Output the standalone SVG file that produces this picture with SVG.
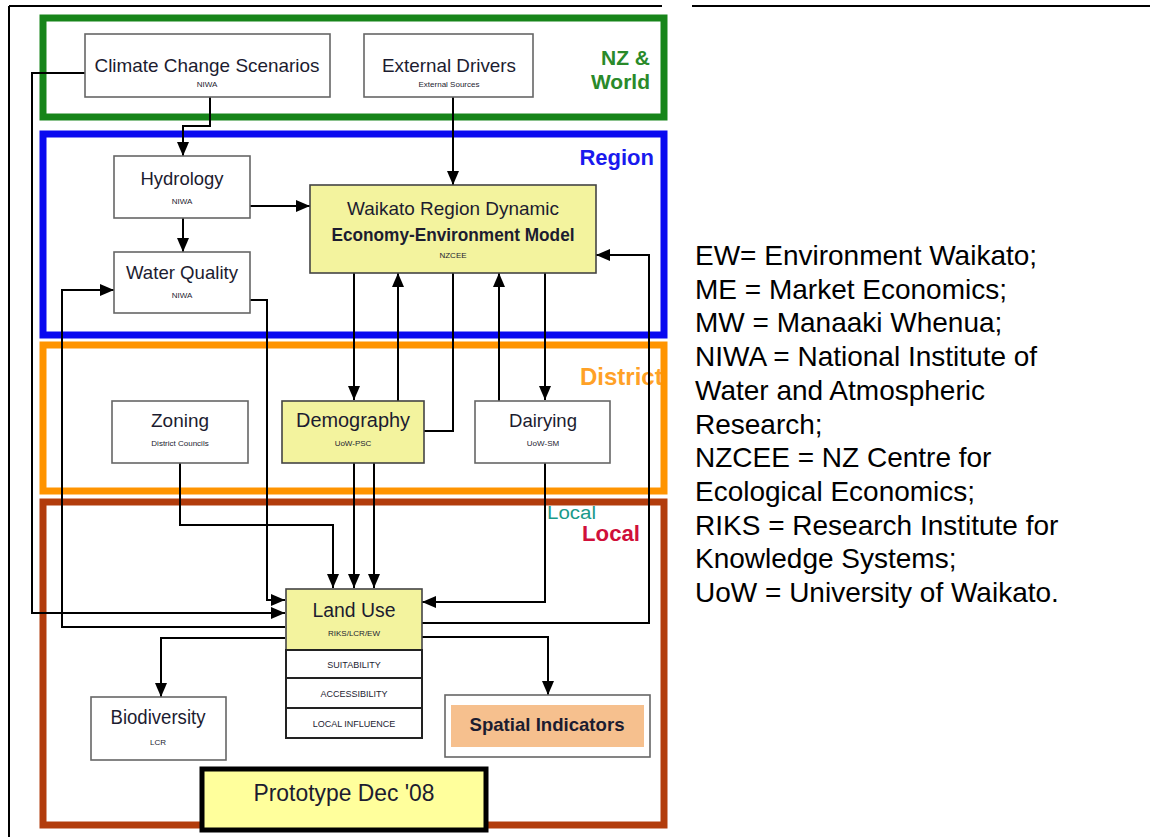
<svg xmlns="http://www.w3.org/2000/svg" width="1150" height="837" viewBox="0 0 1150 837">
<style>
.frame{stroke:#000;stroke-width:2;fill:none}
.grp{fill:none;stroke-width:7}
.box{fill:#fff;stroke:#666;stroke-width:1.6}
.ybox{fill:#f3f39e;stroke:#444;stroke-width:1.6}
.t{font-family:"Liberation Sans Narrow","Liberation Sans",Arial,sans-serif;fill:#1c1c30;text-anchor:middle}
.big{font-size:19px}
.sm{font-size:8px}
.cap{font-size:9px}
.b{font-weight:bold}
.lab{font-family:"Liberation Sans",Arial,sans-serif;font-weight:bold;font-size:22px}
.leg{font-family:"Liberation Sans",Arial,sans-serif;font-size:28px;fill:#000}
.c{fill:none;stroke:#000;stroke-width:2}
.a{marker-end:url(#ah)}
</style>
<defs>
<marker id="ah" markerUnits="userSpaceOnUse" markerWidth="14" markerHeight="12" refX="14" refY="6" orient="auto">
<path d="M0,0 L14,6 L0,12 z" fill="#000"/>
</marker>
</defs>
<rect width="1150" height="837" fill="#fff"/>
<!-- outer table frame -->
<path class="frame" d="M9,6 H662 M692,6 H1150 M9,6 V837"/>

<g id="zone-nzworld">
<rect class="grp" x="43" y="18" width="621" height="99" stroke="#17851a"/>
<text class="lab" x="650" y="65" fill="#2a8a2a" text-anchor="end" style="font-size:21px">NZ &amp;</text>
<text class="lab" x="650" y="89" fill="#2a8a2a" text-anchor="end" style="font-size:21px">World</text>
</g>
<g id="zone-region">
<text class="lab" x="654" y="165" fill="#1a1aee" text-anchor="end">Region</text>
<rect class="grp" x="43" y="134" width="621" height="201" stroke="#0a0af0"/>
</g>
<g id="zone-district">
<text class="lab" x="580" y="385" fill="#ffa126" style="font-size:24px">District</text>
<rect class="grp" x="43" y="345" width="621" height="146" stroke="#ff9400"/>
</g>
<g id="zone-local">
<rect class="grp" x="43" y="502" width="621" height="323" stroke="#b23c0c"/>
<text x="547" y="519" font-family="Liberation Sans Narrow, Liberation Sans, Arial, sans-serif" font-size="18" fill="#1a9a8a" textLength="49" lengthAdjust="spacingAndGlyphs">Local</text>
<text class="lab" x="582" y="541" fill="#d0103a" textLength="58" lengthAdjust="spacingAndGlyphs">Local</text>
</g>

<g id="connectors">
<path class="c a" d="M85,73 H32 V613 H285"/>
<path class="c a" d="M210,97 V126 H183 V156"/>
<path class="c a" d="M453,97 V185"/>
<path class="c a" d="M183,218 V252"/>
<path class="c a" d="M250,206 H310"/>
<path class="c a" d="M250,300 H267 V600 H285"/>
<path class="c a" d="M285,627 H62 V290 H114"/>
<path class="c a" d="M354,273 V400"/>
<path class="c a" d="M398,401 V273"/>
<path class="c a" d="M453,273 V431 H374 V588"/>
<path class="c a" d="M354,463 V588"/>
<path class="c a" d="M499,401 V273"/>
<path class="c a" d="M545,273 V400"/>
<path class="c a" d="M545,463 V602 H422"/>
<path class="c a" d="M422,623 H649 V255 H596"/>
<path class="c a" d="M180,463 V525 H333 V588"/>
<path class="c a" d="M285,638 H161 V697"/>
<path class="c a" d="M422,637 H548 V695"/>
</g>

<g id="climate">
<rect class="box" x="85" y="34" width="245" height="63"/>
<text class="t big" x="207" y="72" textLength="225" lengthAdjust="spacingAndGlyphs">Climate Change Scenarios</text>
<text class="t sm" x="207" y="87">NIWA</text>
</g>
<g id="external">
<rect class="box" x="364" y="34" width="169" height="63"/>
<text class="t big" x="449" y="72" textLength="134" lengthAdjust="spacingAndGlyphs">External Drivers</text>
<text class="t sm" x="449" y="87">External Sources</text>
</g>
<g id="hydrology">
<rect class="box" x="114" y="156" width="136" height="62"/>
<text class="t big" x="182" y="185" textLength="83" lengthAdjust="spacingAndGlyphs">Hydrology</text>
<text class="t sm" x="182" y="204">NIWA</text>
</g>
<g id="waterquality">
<rect class="box" x="114" y="252" width="136" height="61"/>
<text class="t big" x="182" y="279" textLength="112" lengthAdjust="spacingAndGlyphs">Water Quality</text>
<text class="t sm" x="182" y="298">NIWA</text>
</g>
<g id="waikato">
<rect class="ybox" x="310" y="185" width="286" height="88"/>
<text class="t big" x="453" y="215" textLength="212" lengthAdjust="spacingAndGlyphs">Waikato Region Dynamic</text>
<text class="t b" x="453" y="241" style="font-size:18px" textLength="243" lengthAdjust="spacingAndGlyphs">Economy-Environment Model</text>
<text class="t sm" x="453" y="258">NZCEE</text>
</g>
<g id="zoning">
<rect class="box" x="112" y="401" width="136" height="62"/>
<text class="t big" x="180" y="427" textLength="58" lengthAdjust="spacingAndGlyphs">Zoning</text>
<text class="t sm" x="180" y="446">District Councils</text>
</g>
<g id="demography">
<rect class="ybox" x="282" y="401" width="142" height="62"/>
<text class="t big" x="353" y="427" style="font-size:20px" textLength="114" lengthAdjust="spacingAndGlyphs">Demography</text>
<text class="t sm" x="353" y="446">UoW-PSC</text>
</g>
<g id="dairying">
<rect class="box" x="475" y="401" width="135" height="62"/>
<text class="t big" x="543" y="427" textLength="68" lengthAdjust="spacingAndGlyphs">Dairying</text>
<text class="t sm" x="543" y="446">UoW-SM</text>
</g>
<g id="landuse">
<rect class="ybox" x="286" y="589" width="136" height="61" stroke="#222" stroke-width="2"/>
<text class="t big" x="354" y="617" style="font-size:20px" textLength="83" lengthAdjust="spacingAndGlyphs">Land Use</text>
<text class="t sm" x="354" y="636">RIKS/LCR/EW</text>
<rect x="286" y="650" width="136" height="28" fill="#fff" stroke="#222" stroke-width="2"/>
<rect x="286" y="678" width="136" height="30" fill="#fff" stroke="#222" stroke-width="2"/>
<rect x="286" y="708" width="136" height="30" fill="#fff" stroke="#222" stroke-width="2"/>
<text class="t cap" x="354" y="668">SUITABILITY</text>
<text class="t cap" x="354" y="697">ACCESSIBILITY</text>
<text class="t cap" x="354" y="727">LOCAL INFLUENCE</text>
</g>
<g id="biodiversity">
<rect class="box" x="91" y="697" width="135" height="63"/>
<text class="t big" x="158" y="724" style="font-size:20px" textLength="95" lengthAdjust="spacingAndGlyphs">Biodiversity</text>
<text class="t sm" x="158" y="745">LCR</text>
</g>
<g id="spatial">
<rect class="box" x="445" y="695" width="205" height="62"/>
<rect x="451" y="705" width="193" height="42" fill="#f6c08e"/>
<text class="t b big" x="547" y="731" textLength="155" lengthAdjust="spacingAndGlyphs">Spatial Indicators</text>
</g>
<g id="prototype">
<rect x="202" y="769" width="284" height="61" fill="#ffff9c" stroke="#000" stroke-width="5"/>
<text class="t" x="344" y="801" style="font-size:24px" textLength="181" lengthAdjust="spacingAndGlyphs">Prototype Dec '08</text>
</g>

<g id="legend">
<text class="leg" x="695" y="265">EW= Environment Waikato;</text>
<text class="leg" x="695" y="299">ME = Market Economics;</text>
<text class="leg" x="695" y="332">MW = Manaaki Whenua;</text>
<text class="leg" x="695" y="366">NIWA = National Institute of</text>
<text class="leg" x="695" y="400">Water and Atmospheric</text>
<text class="leg" x="695" y="434">Research;</text>
<text class="leg" x="695" y="467">NZCEE = NZ Centre for</text>
<text class="leg" x="695" y="501">Ecological Economics;</text>
<text class="leg" x="695" y="535">RIKS = Research Institute for</text>
<text class="leg" x="695" y="568">Knowledge Systems;</text>
<text class="leg" x="695" y="602">UoW = University of Waikato.</text>
</g>
</svg>
